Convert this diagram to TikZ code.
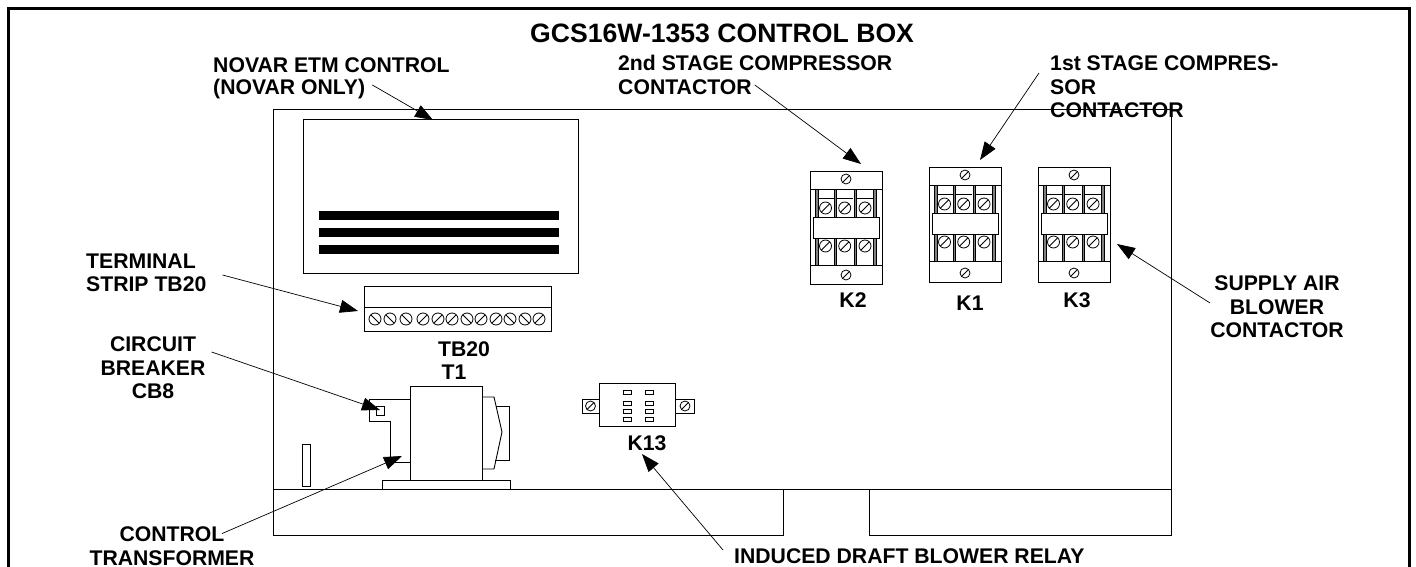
\documentclass[tikz,border=0pt]{standalone}
\usepackage{fontspec}
\setmainfont{Liberation Sans}
\usetikzlibrary{arrows.meta}
\tikzset{
  part/.style={draw=black,line width=0.9pt},
  screw/.style={draw=black,line width=0.8pt},
  leader/.style={draw=black,line width=0.7pt,-{Triangle[length=18pt,width=13pt]}},
  lbl/.style={font=\fontsize{21.2}{23.5}\selectfont\bfseries,inner sep=0pt,align=center},
}
\begin{document}
\begin{tikzpicture}[x=1pt,y=-1pt]
    \useasboundingbox (0,0) rectangle (1416,567);
    % outer frame
    \draw[line width=3pt] (8,567) -- (8,9) -- (1409,9) -- (1409,567);
    % panel
    \draw[part] (273,489) -- (273,109) -- (1171.5,109) -- (1171.5,489);
    \draw[part] (273,489) -- (1171.5,489);
    \draw[part] (273,489) -- (273,535) -- (783,535) -- (783,489);
    \draw[part] (869,489) -- (869,535) -- (1171.5,535) -- (1171.5,489);
    % novar control
    \draw[part] (303,119) rectangle (578,273);
    \foreach \by in {211,228,245} {
        \fill (319,\by) rectangle (559,\by+9);
    }
    % terminal strip
    \draw[part] (364,286) rectangle (551,331);
    \draw[part] (364,307) -- (551,307);
    \foreach \sx/\sa in {375/45,390/45,406/45,423/-45,438/-45,452/-45,467/45,481/-45,496/-45,510/45,525/45,539/-45} {
        \draw[screw] (\sx,319) circle (6);
        \draw[screw] (\sx,319) ++(\sa:6) -- ++(\sa+180:12);
    }
    % contactors
    \foreach \kx/\ky/\kb in {810/171/113,929/167/115,1038/167/115} {
        \begin{scope}[shift={(\kx,\ky)}]
            \draw[part] (0,0) rectangle (72,\kb);
            \draw[part] (0,18) -- (72,18);
            \draw[part] (0,94) -- (72,94);
            \foreach \bx in {5.5,24.3,44,63.7} {
                \draw[fill=gray,line width=0.5pt] (\bx,18) rectangle (\bx+2.3,94);
            }
            \foreach \bx in {7.8,26.6,46.3} {
                \draw[line width=0.5pt] (\bx,27) -- (\bx+16.5,27);
            }
            \draw[part,fill=white] (3.7,46) rectangle (69,67);
            \foreach \sx in {15.5,34.7,55} {
                \draw[screw] (\sx,37) circle (6);
                \draw[screw] (\sx,37) ++(-45:6) -- ++(135:12);
                \draw[screw] (\sx,75) circle (6);
                \draw[screw] (\sx,75) ++(-45:6) -- ++(135:12);
            }
            \foreach \sy in {8,\kb-9} {
                \draw[screw] (36,\sy) circle (5);
                \draw[screw] (36,\sy) ++(-45:5) -- ++(135:10);
            }
        \end{scope}
    }
    % relay
    \draw[part] (599,383) rectangle (675,426);
    \draw[part] (582,399) rectangle (599,413);
    \draw[part] (675,399) rectangle (694,413);
    \foreach \sx in {590.5,685} {
        \draw[screw] (\sx,406) circle (5);
        \draw[screw] (\sx,406) ++(-45:5) -- ++(135:10);
    }
    \foreach \sx in {627,649} {
        \foreach \sy in {392,403,411,419} {
            \draw[line width=0.7pt] (\sx-4,\sy-2) rectangle (\sx+4,\sy+2);
        }
    }
    % transformer
    \draw[part] (410,386) rectangle (482,480);
    \draw[part] (382,489) -- (382,480) -- (510,480) -- (510,489);
    \draw[part] (410,399) -- (369,399) -- (369,421) -- (390,421) -- (390,462) -- (410,462);
    \draw[part] (376,406) rectangle (384,415);
    \draw[part] (482,397) -- (494,397) -- (502,432) -- (494,469) -- (482,469);
    \draw[part] (496,406) -- (509,406) -- (509,460) -- (495,460);
    \draw[part] (302,444) rectangle (310,486);
    % labels
    \node[lbl,anchor=west,font=\fontsize{26.6}{28}\selectfont\bfseries] (titlebox) at (530,33) {GCS16W-1353 CONTROL BOX};
    \node[lbl,anchor=west] (novara) at (213,65) {NOVAR ETM CONTROL};
    \node[lbl,anchor=west] (novarb) at (213,89) {(NOVAR ONLY)};
    \node[lbl,anchor=west] (seconda) at (618,63) {2nd STAGE COMPRESSOR};
    \node[lbl,anchor=west] (secondb) at (618,87) {CONTACTOR};
    \node[lbl,anchor=west] (firsta) at (1050,63) {1st STAGE COMPRES-};
    \node[lbl,anchor=west] (firstb) at (1050,87) {SOR};
    \node[lbl,anchor=west] (firstc) at (1050,110) {CONTACTOR};
    \node[lbl,anchor=west,align=left] (terminal) at (86,273) {TERMINAL\\STRIP TB20};
    \node[lbl] (breaker) at (153,368) {CIRCUIT\\BREAKER\\CB8};
    \node[lbl] (transformer) at (172,546) {CONTROL\\TRANSFORMER};
    \node[lbl] (supply) at (1277,307) {SUPPLY AIR\\BLOWER\\CONTACTOR};
    \node[lbl,anchor=west] (induced) at (734,556) {INDUCED DRAFT BLOWER RELAY};
    \node[lbl] (tbtwenty) at (464,349) {TB20};
    \node[lbl] (tone) at (454,372) {T1};
    \node[lbl] (ktwo) at (853,300) {K2};
    \node[lbl] (kone) at (970,303) {K1};
    \node[lbl] (kthree) at (1077,300) {K3};
    \node[lbl] (kthirteen) at (647,443) {K13};
    % arrows
    \coordinate (novartip) at (433,120);
    \coordinate (secondtip) at (861,164);
    \coordinate (firsttip) at (980,160);
    \coordinate (supplytip) at (1117,244);
    \coordinate (terminaltip) at (358,311);
    \coordinate (breakertip) at (380,410);
    \coordinate (transformertip) at (402,456);
    \coordinate (inducedtip) at (642,454);
    \coordinate (firsttail) at (1039,73);
    \draw[leader] (novarb.east) ++(7,-4) -- (novartip);
    \draw[leader] (secondb.east) ++(3,-2) -- (secondtip);
    \draw[leader] (firsttail) -- (firsttip);
    \draw[leader] (supply.west) ++(0,-4) -- (supplytip);
    \draw[leader] (terminal.east) ++(16,2) -- (terminaltip);
    \draw[leader] (breaker.east) ++(6,-16) -- (breakertip);
    \draw[leader] (transformer.north) ++(50,7) -- (transformertip);
    \draw[leader] (induced.west) ++(-11,-6) -- (inducedtip);
\end{tikzpicture}
\end{document}
